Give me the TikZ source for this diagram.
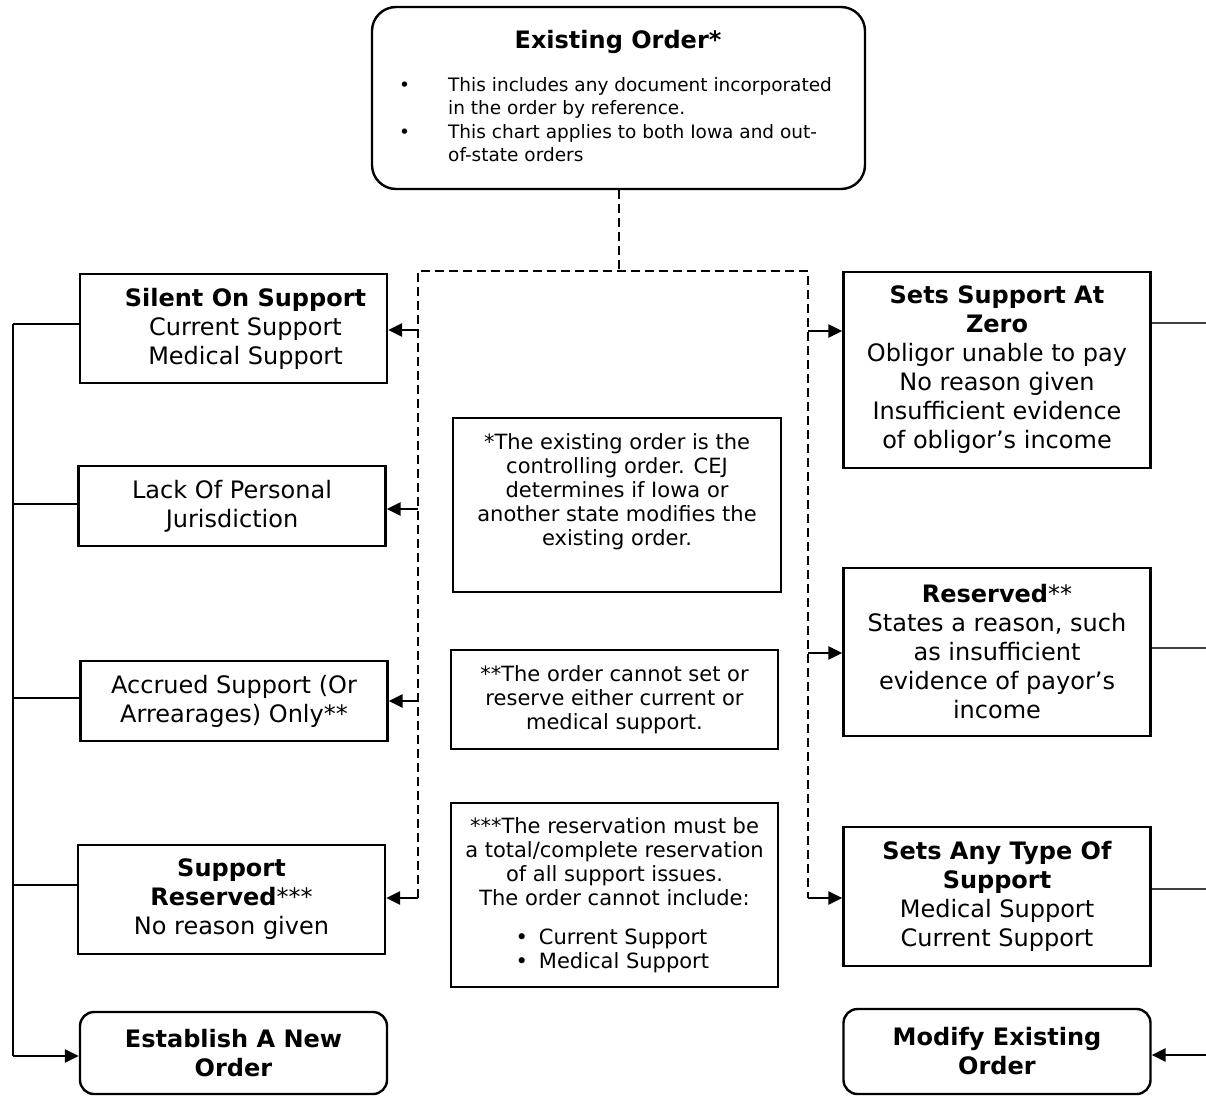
\documentclass[tikz,border=0pt]{standalone}
\usepackage{fontspec}
\setmainfont{DejaVu Sans}
\usetikzlibrary{arrows.meta}

\begin{document}
\begin{tikzpicture}[x=1pt,y=-1pt,
  box/.style={draw,line width=2.4pt,align=center,inner sep=0pt,minimum width=307pt,font=\fontsize{24}{29}\selectfont},
  roundbox/.style={box,rounded corners=14pt},
  note/.style={draw,line width=1.8pt,align=center,inner sep=0pt,font=\fontsize{21}{24.3}\selectfont},
  feed/.style={line width=2.8pt,-{Triangle[length=14pt,width=13pt]}},
  trunk/.style={line width=2.4pt},
  spur/.style={line width=1.2pt,black!75},
  split/.style={line width=2pt,dash pattern=on 9pt off 5pt}]
\useasboundingbox (0,0) rectangle (1206,1095);

% top
\node[roundbox,rounded corners=24pt,minimum width=493pt,minimum height=182pt] (exist) at (618.5,98) {};
\node[font=\fontsize{24}{29}\selectfont\bfseries] (existhead) at (618,42) {Existing Order*};
\node[anchor=north west,align=left,inner sep=0pt,font=\fontsize{18.5}{23.5}\selectfont] (existlist) at (399,77)
  {\makebox[49pt][l]{\textbullet}This includes any document incorporated\\
   \hspace*{49pt}in the order by reference.\\
   \makebox[49pt][l]{\textbullet}This chart applies to both Iowa and out-\\
   \hspace*{49pt}of-state orders};

% left column
\node[box,minimum height=109pt] (silent) at (233.5,328.5)
  {\hspace*{24pt}\textbf{Silent On Support}\\\hspace*{24pt}Current Support\\\hspace*{24pt}Medical Support};
\node[box,minimum height=80pt] (lack) at (232,506) {Lack Of Personal\\Jurisdiction};
\node[box,minimum height=80pt] (accrued) at (234,701) {Accrued Support (Or\\Arrearages) Only**};
\node[box,minimum height=109pt] (noreason) at (231.5,899.5) {\textbf{Support}\\\textbf{Reserved}***\\No reason given};
\node[roundbox,minimum height=82pt] (establish) at (233.5,1053) {\textbf{Establish A New}\\\textbf{Order}};

% right column
\node[box,minimum height=196pt] (zero) at (997,370) {\textbf{Sets Support At}\\\textbf{Zero}\\Obligor unable to pay\\No reason given\\Insufficient evidence\\of obligor’s income};
\node[box,minimum height=168pt] (reserved) at (997,652) {\textbf{Reserved}**\\States a reason, such\\as insufficient\\evidence of payor’s\\income};
\node[box,minimum height=139pt] (anytype) at (997,896.5) {\textbf{Sets Any Type Of}\\\textbf{Support}\\Medical Support\\Current Support};
\node[roundbox,minimum height=85pt] (modify) at (997,1051.5) {\textbf{Modify Existing}\\\textbf{Order}};

% notes
\node[note,minimum width=328pt,minimum height=174pt] (cejnote) at (617,505) {};
\node[align=center,font=\fontsize{21}{24}\selectfont] (cejtext) at (617,492)
  {*The existing order is the\\controlling order. CEJ\\determines if Iowa or\\another state modifies the\\existing order.};
\node[note,minimum width=327pt,minimum height=99pt] (arrearsnote) at (614.5,699.5)
  {**The order cannot set or\\reserve either current or\\medical support.};
\node[note,minimum width=327pt,minimum height=184pt] (reservenote) at (614.5,895)
  {***The reservation must be\\a total/complete reservation\\of all support issues.\\The order cannot include:\\[14pt]
   \makebox[198pt][l]{\textbullet\hspace{11pt}Current Support}\\
   \makebox[198pt][l]{\textbullet\hspace{11pt}Medical Support}};

% dashed split
\coordinate (fork) at (exist.south |- 0,271);
\coordinate (lsplit) at (418,271);
\coordinate (rsplit) at (808,271);
\coordinate (lend) at (418,898);
\coordinate (rend) at (808,898);
\draw[split] (exist.south) -- (fork);
\draw[split] (lend) -- (lsplit) -- (rsplit) -- (rend);

\foreach \n/\y in {silent/330,lack/509,accrued/701,noreason/898}
  \draw[feed] (lsplit |- 0,\y) -- (\n.east |- 0,\y);
\foreach \n/\y in {zero/331,reserved/653,anytype/898}
  \draw[feed] (rsplit |- 0,\y) -- (\n.west |- 0,\y);

% left trunk
\coordinate (ltop) at (13,324);
\coordinate (lbot) at (13,1056);
\draw[trunk] (ltop) -- (lbot);
\foreach \n/\y in {silent/324,lack/504,accrued/698,noreason/885}
  \draw[trunk] (ltop |- 0,\y) -- (\n.west |- 0,\y);
\draw[feed] (lbot) -- (establish.west |- lbot);

% right edge
\coordinate (redge) at (1206,1055);
\foreach \n/\y in {zero/323,reserved/648,anytype/889}
  \draw[spur] (\n.east |- 0,\y) -- (redge |- 0,\y);
\draw[feed] (redge) -- (modify.east |- redge);
\end{tikzpicture}
\end{document}
